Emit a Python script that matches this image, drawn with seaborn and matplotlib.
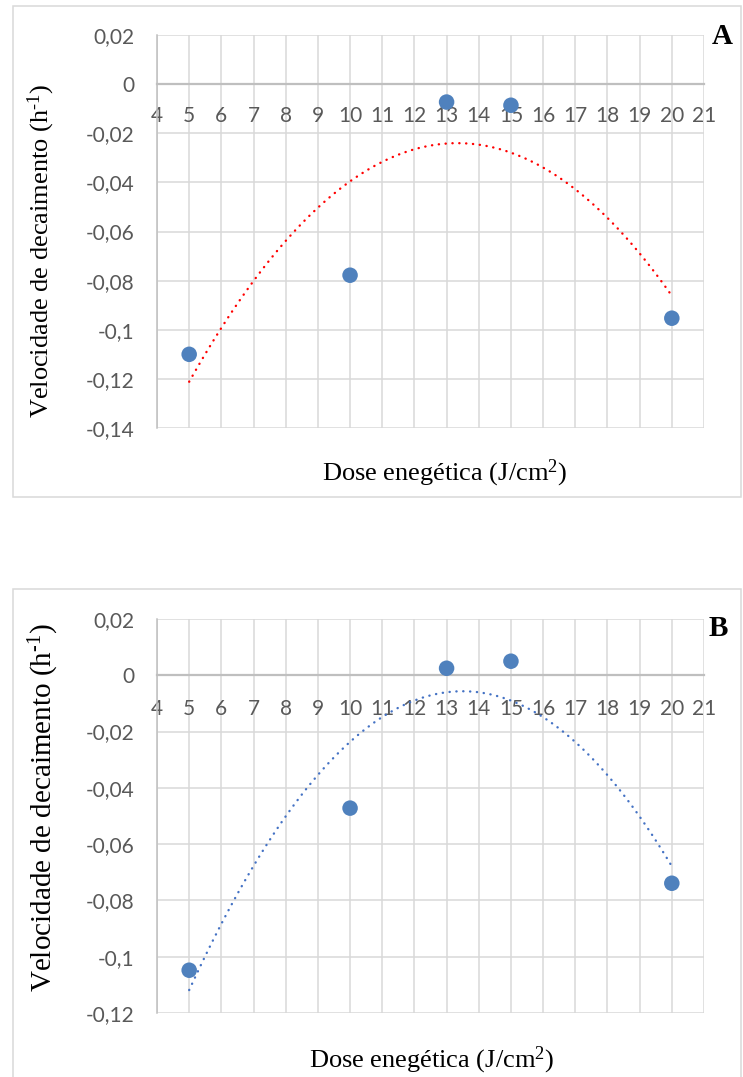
import numpy as np
import pandas as pd
import seaborn as sns
import matplotlib
matplotlib.use("Agg")
import matplotlib.pyplot as plt
from matplotlib.ticker import FuncFormatter, MultipleLocator
from matplotlib.patches import Rectangle

# Dose (J/cm2) and decay rate (h^-1) for the two experiments
dose = [5, 10, 13, 15, 20]
velocidade_a = [-0.110, -0.0778, -0.0073, -0.0086, -0.0953]
velocidade_b = [-0.1048, -0.0472, 0.0025, 0.005, -0.0739]
x_ticks = list(range(4, 22))
y_limits_a = (-0.14, 0.02)
y_limits_b = (-0.12, 0.02)
panel_labels = ["A", "B"]
x_title = "Dose enegética (J/cm$^{2}$)"
y_title = "Velocidade de decaimento (h$^{\\text{-1}}$)"

sns.set_theme(style="white")
plt.rcParams["font.family"] = ["Lato", "DejaVu Sans"]
plt.rcParams["mathtext.fontset"] = "custom"
plt.rcParams["mathtext.rm"] = "Liberation Serif"
plt.rcParams["mathtext.it"] = "Liberation Serif:italic"
plt.rcParams["mathtext.bf"] = "Liberation Serif:bold"

W, H = 743, 1077
fig = plt.figure(figsize=(W / 100, H / 100), dpi=100)
fig.patch.set_facecolor("white")

GRID = "#D9D9D9"
AXIS = "#BFBFBF"
TICK = "#595959"
POINT = "#4F81BD"


def fx(px):
    return px / W


def fy(py):
    return 1 - py / H


def comma_fmt(v, _pos):
    if abs(v) < 1e-12:
        return "0"
    return f"{v:g}".replace(".", ",")


def draw_panel(ax, values, ylim, trend_color, label, label_xy, xpad):
    df = pd.DataFrame({"dose": dose, "vel": values})
    sns.regplot(
        data=df, x="dose", y="vel", ax=ax, order=2, ci=None, truncate=True,
        scatter_kws=dict(s=125, color=POINT, edgecolor="none", alpha=1, zorder=4),
        line_kws=dict(color=trend_color, lw=1.7, linestyle=(0, (0.1, 2.8)),
                      dash_capstyle="round", zorder=3),
    )
    ax.set_xlim(x_ticks[0], x_ticks[-1])
    ax.set_ylim(*ylim)
    ax.set_xticks(x_ticks)
    ax.yaxis.set_major_locator(MultipleLocator(0.02))
    ax.yaxis.set_major_formatter(FuncFormatter(comma_fmt))
    ax.grid(True, color=GRID, lw=1.1)
    ax.set_axisbelow(True)
    for side in ("top", "right"):
        ax.spines[side].set_visible(False)
    ax.spines["bottom"].set_position(("data", 0))
    ax.spines["bottom"].set_color(AXIS)
    ax.spines["bottom"].set_linewidth(1.6)
    ax.spines["left"].set_color(AXIS)
    ax.spines["left"].set_linewidth(1.1)
    ax.tick_params(axis="x", length=0, pad=xpad, labelsize=15, labelcolor=TICK)
    ax.tick_params(axis="y", length=0, pad=16, labelsize=15, labelcolor=TICK)
    ax.set_xlabel("")
    ax.set_ylabel("")
    fig.text(fx(label_xy[0]), fy(label_xy[1]), label, family="Liberation Serif",
             fontweight="bold", fontsize=21, ha="center", va="center", color="black")


# Panel A
axA = fig.add_axes([fx(157), fy(428), fx(704) - fx(157), fy(35) - fy(428)])
draw_panel(axA, velocidade_a, y_limits_a, "#FF0000", panel_labels[0], (722, 36), 16)
fig.add_artist(Rectangle((fx(13), fy(497)), fx(741) - fx(13), fy(6) - fy(497),
                         transform=fig.transFigure, fill=False, ec=GRID, lw=1.1))
fig.text(fx(445), fy(473), x_title, family="Liberation Serif", fontsize=19,
         ha="center", va="center", color="black")
fig.text(fx(41), fy(251), y_title, family="Liberation Serif", fontsize=19,
         rotation=90, ha="center", va="center", color="black")

# Panel B
axB = fig.add_axes([fx(157), fy(1013), fx(704) - fx(157), fy(619) - fy(1013)])
draw_panel(axB, velocidade_b, y_limits_b, "#4472C4", panel_labels[1], (718, 628), 17)
fig.add_artist(Rectangle((fx(13), fy(1090)), fx(741) - fx(13), fy(589) - fy(1090),
                         transform=fig.transFigure, fill=False, ec=GRID, lw=1.1))
fig.text(fx(432), fy(1060), x_title, family="Liberation Serif", fontsize=19,
         ha="center", va="center", color="black")
fig.text(fx(44), fy(808), y_title, family="Liberation Serif", fontsize=21,
         rotation=90, ha="center", va="center", color="black")

fig.savefig("out.png", dpi=100)
